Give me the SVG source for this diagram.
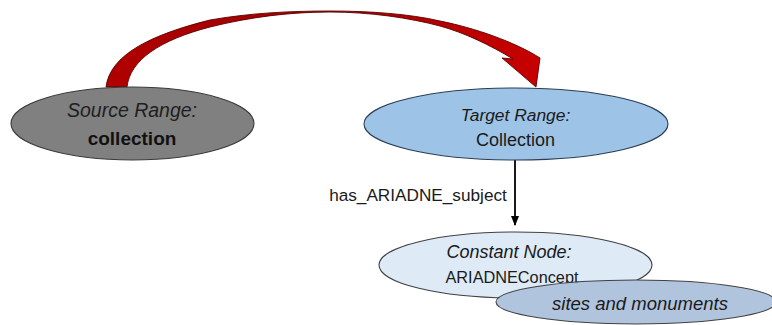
<svg xmlns="http://www.w3.org/2000/svg" width="772" height="325" viewBox="0 0 772 325">
<defs>
<style>
.node{stroke-width:1.1}
.t{font-family:"Liberation Sans",Arial,sans-serif;text-anchor:middle}
.i{font-style:italic}
.edge{stroke:#000;stroke-width:1.8;fill:none}
</style>
<linearGradient id="red" x1="0" y1="0" x2="1" y2="0">
<stop offset="0" stop-color="#b00000"/>
<stop offset="0.5" stop-color="#a00000"/>
<stop offset="1" stop-color="#c80000"/>
</linearGradient>
<marker id="ah" markerWidth="10" markerHeight="10" refX="9" refY="5" orient="auto" markerUnits="userSpaceOnUse">
<path d="M0,1 L10,5 L0,9 Z" fill="#000"/>
</marker>
</defs>
<rect width="772" height="325" fill="#fff"/>
<g id="connectors">
<path id="curved-arrow" d="M106,87 C110,55 150,35 210,20 C250,13 290,11 330,11 C370,11 410,14 440,21 C475,28 515,42 540,58 L536,87 L502,58 L513,59 C490,45 465,33 440,26 C410,18 370,12 330,12 C290,12 250,17 210,27 C160,40 130,60 127,87 Z" fill="url(#red)" stroke="#5a0000" stroke-width="0.9" stroke-linejoin="miter"/>
<line class="edge" x1="515" y1="160" x2="515" y2="225" marker-end="url(#ah)"/>
<text class="t" x="418" y="201" font-size="17.2" fill="#1a1a1a">has_ARIADNE_subject</text>
</g>
<g id="source-range">
<ellipse class="node" cx="132.5" cy="123.5" rx="121.5" ry="36.5" fill="#808080" stroke="#3a3a3a"/>
<text class="t i" x="132" y="117" font-size="19.5" fill="#1e1e1e">Source Range:</text>
<text class="t" x="132" y="145" font-size="19" font-weight="bold" fill="#111">collection</text>
</g>
<g id="target-range">
<ellipse class="node" cx="516" cy="124" rx="152" ry="36" fill="#9dc3e6" stroke="#2a3d55"/>
<text class="t i" x="515.5" y="121" font-size="17.4" fill="#1a1a1a">Target Range:</text>
<text class="t" x="515.5" y="146" font-size="18" fill="#1a1a1a">Collection</text>
</g>
<g id="constant-node">
<ellipse class="node" cx="515.5" cy="265" rx="136.5" ry="33" fill="#deebf7" stroke="#404040"/>
<text class="t i" x="509" y="258" font-size="18" fill="#1a1a1a">Constant Node:</text>
<text class="t" x="512" y="283" font-size="16.3" fill="#1a1a1a">ARIADNEConcept</text>
</g>
<g id="sites-and-monuments">
<ellipse class="node" cx="636" cy="302" rx="140" ry="22" fill="#b0c4de" stroke="#404040"/>
<text class="t i" x="640" y="310" font-size="18.5" fill="#1a1a1a">sites and monuments</text>
</g>
</svg>
